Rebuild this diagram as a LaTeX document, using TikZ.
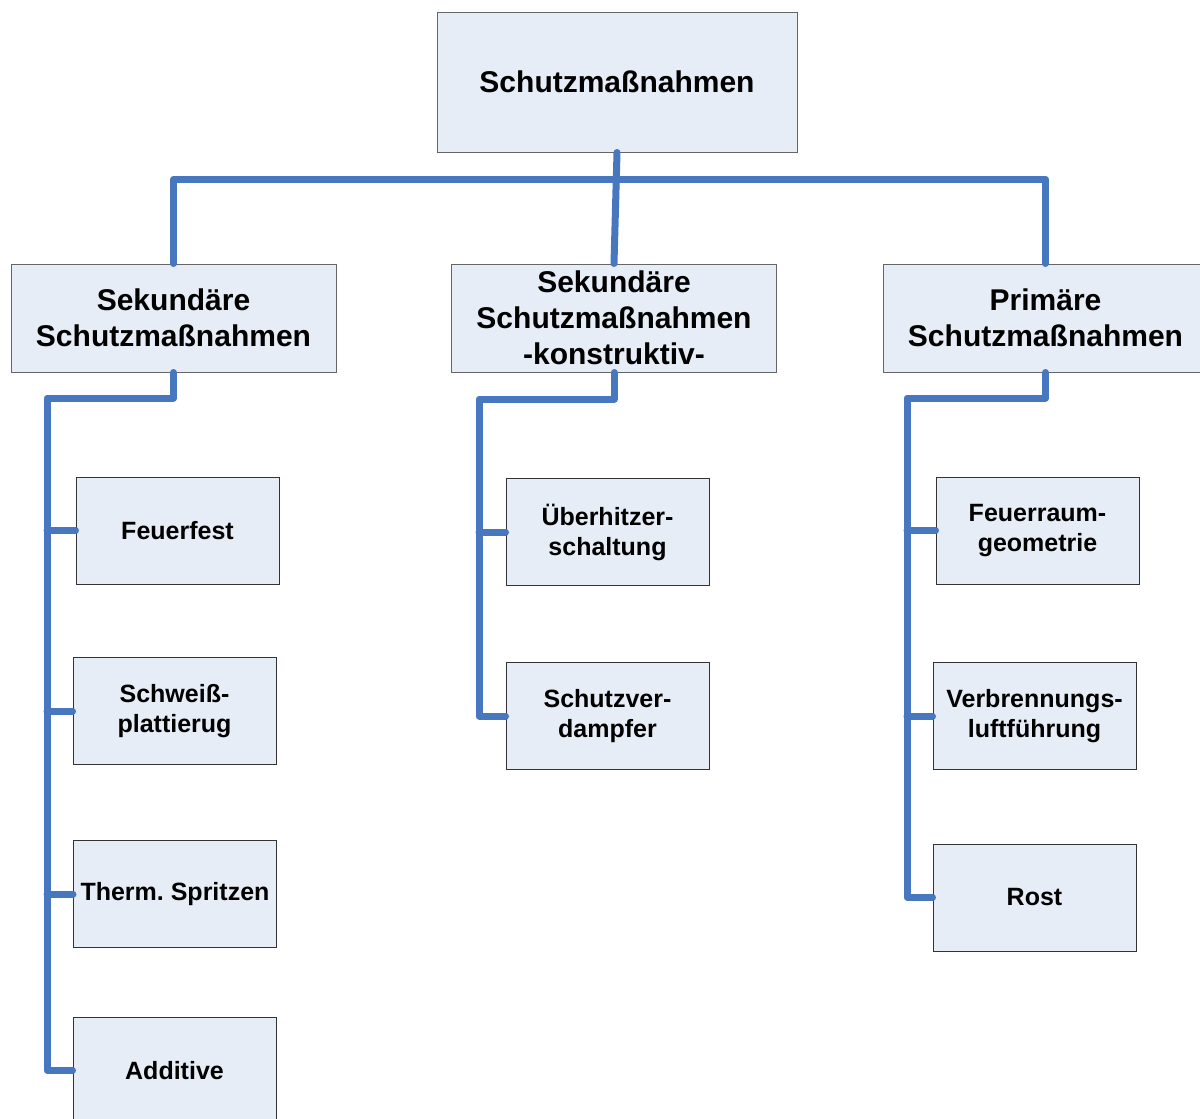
\documentclass[tikz,border=0pt]{standalone}
\usepackage{fontspec}
\setmainfont{Liberation Sans}
\usepackage{xcolor}
\usepackage{tikz}
\usetikzlibrary{positioning,calc}

\definecolor{boxfill}{HTML}{E7EDF7}
\definecolor{linkblue}{HTML}{4778BF}

\begin{document}
\begin{tikzpicture}[
    x=1pt, y=-1pt,
    top/.style={rectangle, draw=black!60, fill=boxfill, line width=1pt, minimum width=360pt, minimum height=140pt, align=center, inner sep=0pt, font=\fontsize{30}{36}\selectfont\bfseries},
    group/.style={top, minimum width=325pt, minimum height=108pt},
    item/.style={rectangle, draw=black!80, fill=boxfill, line width=1pt, minimum width=203pt, minimum height=107pt, align=center, inner sep=0pt, font=\fontsize{25}{30}\selectfont\bfseries},
    link/.style={draw=linkblue, line width=7pt, line cap=round, line join=round}
]
\useasboundingbox (0,0) rectangle (1200,1119);

\node[top] (root) at (617,82) {Schutzmaßnahmen};

\node[group] (sek) at (173.5,318) {Sekundäre\\Schutzmaßnahmen};
\node[group] (kon) at (614,318) {Sekundäre\\Schutzmaßnahmen\\-konstruktiv-};
\node[group] (prim) at (1045.5,318) {Primäre\\Schutzmaßnahmen};

% secondary measures
\node[item] (fest) at (177.5,530.5) {Feuerfest};
\node[item] (schweiss) at (174.5,711) {Schweiß-\\plattierug};
\node[item] (spritz) at (175,894) {Therm.\ Spritzen};
\node[item] (add) at (174.5,1070.5) {Additive};

% constructive
\node[item] (ueber) at (607.5,532) {Überhitzer-\\schaltung};
\node[item] (verd) at (607.5,716) {Schutzver-\\dampfer};

% primary measures
\node[item] (raum) at (1037.5,530.5) {Feuerraum-\\geometrie};
\node[item] (luft) at (1034.5,716) {Verbrennungs-\\luftführung};
\node[item] (rost) at (1034.5,897.5) {Rost};

% connectors
\coordinate (bus) at (617,179);
\draw[link] (root.south) -- (kon.north);
\draw[link] (sek.north) |- (bus) -| (prim.north);

\coordinate (sekknee) at (47,398);
\draw[link] (sek.south) |- (sekknee) |- (add.west);
\foreach \n in {fest,schweiss,spritz}
    \draw[link] (sekknee |- \n.west) -- (\n.west);

\coordinate (konknee) at (479,399);
\draw[link] (kon.south) |- (konknee) |- (verd.west);
\draw[link] (konknee |- ueber.west) -- (ueber.west);

\coordinate (primknee) at (907,398);
\draw[link] (prim.south) |- (primknee) |- (rost.west);
\foreach \n in {raum,luft}
    \draw[link] (primknee |- \n.west) -- (\n.west);

\end{tikzpicture}
\end{document}
